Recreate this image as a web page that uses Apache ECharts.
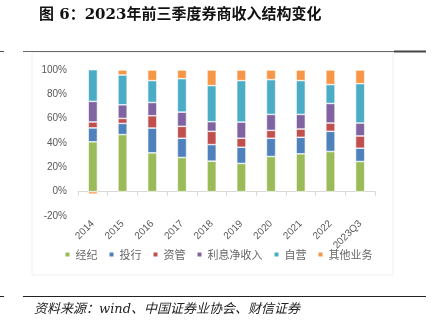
<!DOCTYPE html>
<html>
<head>
<meta charset="utf-8">
<script src="https://cdn.jsdelivr.net/npm/echarts@6/dist/echarts.min.js"></script>
<style>
  html, body { margin: 0; padding: 0; background: #fff; }
  #chart { width: 436px; height: 327px; }
</style>
</head>
<body>
<div id="chart"></div>
<script>
// Revenue structure of securities firms, share of total (%)
const categories = ['2014', '2015', '2016', '2017', '2018', '2019', '2020', '2021', '2022', '2023Q3'];
const brokerage  = [41.0, 46.9, 31.9, 28.1, 25.1, 23.2, 28.9, 31.1, 33.0, 24.8];
const ibanking   = [11.4,  9.2, 20.4, 15.8, 13.6, 13.3, 15.0, 13.6, 16.6, 10.9];
const assetMgmt  = [ 4.9,  4.1, 10.1,  9.8, 10.9,  7.4,  6.5,  6.8,  6.8, 10.1];
const netInterest= [16.9, 11.2, 10.9, 11.7,  7.9, 13.3, 13.1, 12.0, 16.1, 10.6];
const proprietary= [27.8, 24.5, 18.0, 27.5, 29.7, 34.1, 28.6, 27.8, 15.5, 32.4];
const others     = [-2.0,  4.1,  8.7,  7.1, 12.8,  8.7,  7.9,  8.7, 12.0, 11.2];
const seriesNames = ['经纪', '投行', '资管', '利息净收入', '自营', '其他业务'];
const seriesData  = [brokerage, ibanking, assetMgmt, netInterest, proprietary, others];
const colors = ['#9BBB59', '#4F81BD', '#C0504D', '#8064A2', '#4BACC6', '#F79646'];
const yTicks = [-20, 0, 20, 40, 60, 80, 100];

const chart = echarts.init(document.getElementById('chart'));
chart.setOption({
  animation: false,
  color: colors,
  title: {
    text: '图 6：2023年前三季度券商收入结构变化',
    left: 34, top: 3,
    textStyle: { fontFamily: '"DejaVu Serif", "Noto Sans CJK SC"', fontWeight: 'bold', fontSize: 15, color: '#111' }
  },
  graphic: [
    { type: 'rect', shape: { x: 32, y: 52, width: 361, height: 223 }, style: { fill: 'none', stroke: '#F0F0F0', lineWidth: 1 }, silent: true },
    { type: 'line', shape: { x1: 0, y1: 51.5, x2: 4, y2: 51.5 }, style: { stroke: '#555', lineWidth: 1 } },
    { type: 'line', shape: { x1: 23, y1: 51.5, x2: 395, y2: 51.5 }, style: { stroke: '#666', lineWidth: 1 } },
    { type: 'line', shape: { x1: 394, y1: 51.5, x2: 426, y2: 51.5 }, style: { stroke: '#444', lineWidth: 2 } },
    { type: 'line', shape: { x1: 0, y1: 296.5, x2: 4, y2: 296.5 }, style: { stroke: '#222', lineWidth: 1 } },
    { type: 'line', shape: { x1: 23, y1: 296.5, x2: 426, y2: 296.5 }, style: { stroke: '#222', lineWidth: 1 } },
    { type: 'text', left: 34, top: 303,
      style: { text: '资料来源：wind、中国证券业协会、财信证券', font: 'italic 13px "DejaVu Serif", "Noto Sans CJK SC"', fill: '#222' } }
  ],
  legend: {
    bottom: 62, left: 'center',
    itemWidth: 6, itemHeight: 6, itemGap: 10,
    icon: 'rect',
    textStyle: { color: '#666', fontSize: 11, fontFamily: 'Noto Sans CJK SC' },
    data: seriesNames
  },
  grid: { left: 78, right: 61, top: 70, bottom: 111 },
  xAxis: {
    type: 'category',
    data: categories,
    axisLine: { onZero: true, lineStyle: { color: '#D9D9D9' } },
    axisTick: { show: true, alignWithLabel: false, length: 4, lineStyle: { color: '#D9D9D9' } },
    axisLabel: { rotate: 45, color: '#595959', fontSize: 10, margin: 6, interval: 0 }
  },
  yAxis: {
    type: 'value',
    min: -20, max: 100, interval: 20,
    splitLine: { show: false },
    axisLine: { show: false },
    axisLabel: {
      color: '#595959', fontSize: 10, margin: 11,
      formatter: v => yTicks.includes(v) ? v + '%' : ''
    }
  },
  series: seriesNames.map((name, i) => ({
    name,
    type: 'bar',
    stack: 'total',
    barWidth: '31%',
    data: seriesData[i],
    itemStyle: { color: colors[i], borderColor: '#fff', borderWidth: 0.6 }
  }))
});
</script>
</body>
</html>
